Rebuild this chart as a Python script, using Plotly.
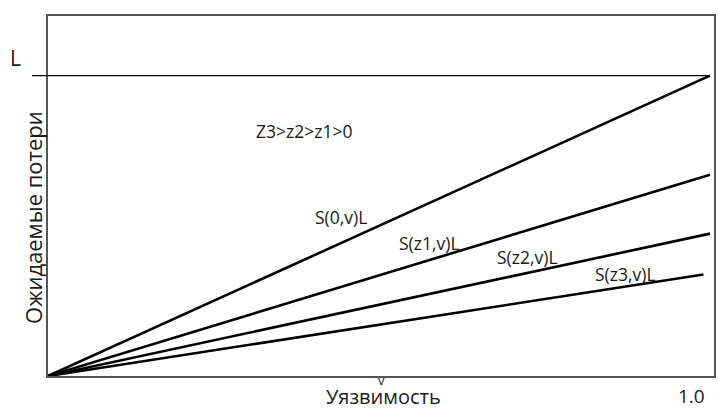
import plotly.graph_objects as go

# Data
L = 1.0
series_names = ["S(0,v)L", "S(z1,v)L", "S(z2,v)L", "S(z3,v)L"]
series_v_end = [1.0, 1.0, 1.0, 0.99]
series_end = [1.0, 0.67, 0.474, 0.338]
label_x = [0.443, 0.577, 0.724, 0.873]
label_y = [0.530, 0.444, 0.397, 0.341]
cond_text = "Z3>z2>z1>0"

FONT = "Open Sans"
TXT = "#1a1a1a"

fig = go.Figure()
for name, ve, e in zip(series_names, series_v_end, series_end):
    fig.add_trace(go.Scatter(x=[0.0, ve], y=[0.0, e * L], mode="lines",
                             line=dict(color="black", width=2.6),
                             name=name, showlegend=False, hoverinfo="skip"))

# L line (extends slightly left past axis)
fig.add_shape(type="line", xref="paper", yref="y", x0=-0.024, x1=662/666,
              y0=L, y1=L, line=dict(color="black", width=1.3))

for name, lx, ly in zip(series_names, label_x, label_y):
    fig.add_annotation(x=lx, y=ly, text=name, showarrow=False,
                       font=dict(family=FONT, size=17.5, color=TXT))
fig.add_annotation(x=0.387, y=0.815, text=cond_text, showarrow=False,
                   font=dict(family=FONT, size=17.5, color=TXT))

# L label
fig.add_annotation(xref="paper", yref="y", x=-0.06, y=1.06, text="L", showarrow=False,
                   font=dict(family=FONT, size=21, color=TXT))
# y title
fig.add_annotation(xref="paper", yref="paper", x=(33-48)/666, y=(376-217)/362,
                   text="Ожидаемые потери", textangle=-90, showarrow=False,
                   xanchor="center", yanchor="middle",
                   font=dict(family=FONT, size=22, color=TXT))
# x title
fig.add_annotation(xref="paper", yref="paper", x=(381-48)/666, y=(376-380)/362, text="v",
                   showarrow=False, yanchor="middle",
                   font=dict(family=FONT, size=13, color=TXT))
fig.add_annotation(xref="paper", yref="paper", x=(384-48)/666, y=(376-397)/362,
                   text="Уязвимость", showarrow=False, yanchor="middle",
                   font=dict(family=FONT, size=20, color=TXT))
fig.add_annotation(xref="paper", yref="paper", x=(707-48)/666, y=(376-396)/362, text="1.0",
                   showarrow=False, yanchor="middle",
                   font=dict(family=FONT, size=19, color=TXT))

fig.update_layout(
    width=716, height=404,
    margin=dict(l=40, r=10, t=6, b=36),
    paper_bgcolor="white", plot_bgcolor="white",
    showlegend=False,
)
fig.update_xaxes(range=[0, 666/662], showgrid=False, zeroline=False, showticklabels=False,
                 ticks="", showline=True, mirror=True, linecolor="#555", linewidth=1.5)
fig.update_yaxes(range=[0, 362/302], showgrid=False, zeroline=False, showticklabels=False,
                 ticks="", showline=True, mirror=True, linecolor="#555", linewidth=1.5)

fig.write_html("out.html")
